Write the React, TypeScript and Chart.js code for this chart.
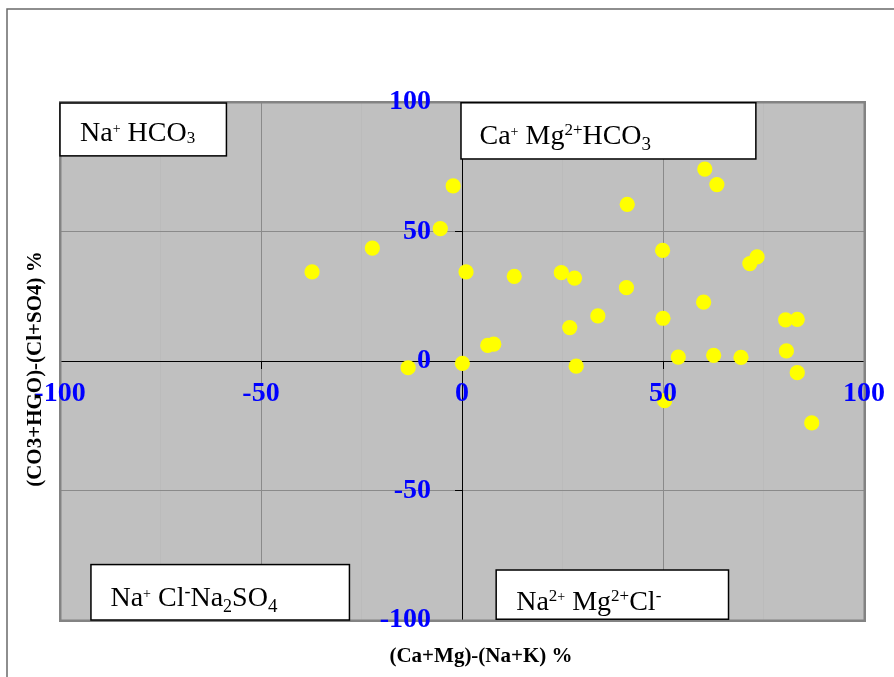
import React, { useEffect, useRef } from 'react';
import { Chart, registerables } from 'chart.js';

Chart.register(...registerables);

// (Ca+Mg)-(Na+K) %
const xValues = [
  -37.3, -22.3, -13.4, -5.4, -2.2, 0.1, 1.0, 6.4, 7.9, 13.0, 24.7, 26.8, 28.0, 28.4, 33.8, 40.9, 41.1,
  49.9, 50.0, 50.4, 53.8, 60.1, 60.4, 62.6, 63.4, 69.4, 71.6, 73.4, 80.5, 80.7, 83.4, 83.4, 87.0,
];
// (CO3+HCO)-(Cl+SO4) %
const yValues = [
  34.4, 43.6, -2.6, 51.1, 67.6, -0.9, 34.4, 6.0, 6.5, 32.7, 34.1, 12.9, 32.0, -2.0, 17.4, 28.3, 60.5,
  42.7, 16.5, -15.3, 1.5, 22.7, 74.1, 2.2, 68.1, 1.4, 37.6, 40.2, 15.9, 3.9, 16.1, -4.5, -23.9,
];
const xTickLabels = ['-100', '-50', '0', '50', '100'];
const yTickLabels = ['-100', '-50', '0', '50', '100'];
const xTitle = '(Ca+Mg)-(Na+K) %';
const yTitle = '(CO3+HGO)-(Cl+SO4) %';

type Run = { t: string; s: number; d: number };
const boxNaHCO3: Run[] = [
  { t: 'Na', s: 28, d: 0 }, { t: '+', s: 14, d: 8 }, { t: ' HCO', s: 28, d: 0 }, { t: '3', s: 17, d: -2 },
];
const boxCaMgHCO3: Run[] = [
  { t: 'Ca', s: 28, d: 0 }, { t: '+', s: 14, d: 8 }, { t: ' Mg', s: 28, d: 0 }, { t: '2+', s: 17, d: 9 },
  { t: 'HCO', s: 28, d: 0 }, { t: '3', s: 19, d: -6 },
];
const boxNaClSO4: Run[] = [
  { t: 'Na', s: 28, d: 0 }, { t: '+', s: 14, d: 8 }, { t: ' Cl', s: 28, d: 0 }, { t: '-', s: 18, d: 9 },
  { t: 'Na', s: 28, d: 0 }, { t: '2', s: 18, d: -6 }, { t: 'SO', s: 28, d: 0 }, { t: '4', s: 19, d: -6 },
];
const boxNaMgCl: Run[] = [
  { t: 'Na', s: 28, d: 0 }, { t: '2', s: 17, d: 9 }, { t: '+', s: 14, d: 9 }, { t: ' Mg', s: 28, d: 0 },
  { t: '2+', s: 17, d: 9 }, { t: 'Cl', s: 28, d: 0 }, { t: '-', s: 17, d: 9 },
];

const SERIF = "'Liberation Serif', 'Times New Roman', serif";

const boxes = [
  { x0: -100, x1: -58.6, y0: 99.6, y1: 79.2, runs: boxNaHCO3, tx: 20, by: 38 },
  { x0: -0.25, x1: 73.1, y0: 99.7, y1: 78.0, runs: boxCaMgHCO3, tx: 18.5, by: 41 },
  { x0: -92.3, x1: -28.0, y0: -78.6, y1: -100, runs: boxNaClSO4, tx: 19.5, by: 41 },
  { x0: 8.5, x1: 66.3, y0: -80.7, y1: -99.7, runs: boxNaMgCl, tx: 20, by: 40 },
];

const decor = {
  id: 'decor',
  beforeDraw(chart: any) {
    const { ctx, chartArea: a } = chart;
    ctx.save();
    ctx.fillStyle = '#ffffff';
    ctx.fillRect(0, 0, chart.width, chart.height);
    ctx.strokeStyle = '#6a6a6a';
    ctx.lineWidth = 1.5;
    ctx.beginPath();
    ctx.moveTo(7, chart.height + 5);
    ctx.lineTo(7, 9);
    ctx.lineTo(chart.width + 5, 9);
    ctx.stroke();
    ctx.fillStyle = '#c0c0c0';
    ctx.fillRect(a.left, a.top, a.right - a.left, a.bottom - a.top);
    ctx.restore();
  },
  beforeDatasetsDraw(chart: any) {
    const { ctx, chartArea: a } = chart;
    ctx.save();
    ctx.strokeStyle = '#838383';
    ctx.lineWidth = 2.5;
    ctx.strokeRect(a.left + 0.25, a.top + 0.25, a.right - a.left + 0.5, a.bottom - a.top + 0.5);
    ctx.restore();
  },
  afterDatasetsDraw(chart: any) {
    const { ctx } = chart;
    const xs = chart.scales.x;
    const ys = chart.scales.y;
    ctx.save();
    for (const b of boxes) {
      const l = xs.getPixelForValue(b.x0);
      const r = xs.getPixelForValue(b.x1);
      const t = ys.getPixelForValue(b.y0);
      const btm = ys.getPixelForValue(b.y1);
      ctx.fillStyle = '#ffffff';
      ctx.fillRect(l, t, r - l, btm - t);
      ctx.strokeStyle = '#000000';
      ctx.lineWidth = 1.5;
      ctx.strokeRect(l, t, r - l, btm - t);
      let x = l + b.tx;
      const base = t + b.by;
      ctx.fillStyle = '#000000';
      ctx.textBaseline = 'alphabetic';
      ctx.textAlign = 'left';
      for (const run of b.runs) {
        ctx.font = `${run.s}px ${SERIF}`;
        ctx.fillText(run.t, x, base - run.d);
        x += ctx.measureText(run.t).width;
      }
    }
    ctx.restore();
  },
  afterDraw(chart: any) {
    const { ctx } = chart;
    ctx.save();
    ctx.fillStyle = '#000000';
    ctx.font = `bold 21px ${SERIF}`;
    ctx.textAlign = 'center';
    ctx.textBaseline = 'middle';
    ctx.fillText(xTitle, 481, 657);
    ctx.translate(36, 369);
    ctx.rotate(-Math.PI / 2);
    ctx.fillText(yTitle, 0, 0);
    ctx.restore();
  },
};

export default function App() {
  const ref = useRef<HTMLCanvasElement | null>(null);
  useEffect(() => {
    if (!ref.current) return;
    const labelFor = (labels: string[], v: number) => {
      const s = String(v);
      return labels.includes(s) ? s : '';
    };
    const chart = new Chart(ref.current, {
      type: 'scatter',
      data: {
        datasets: [
          {
            data: xValues.map((x, i) => ({ x, y: yValues[i] })),
            backgroundColor: '#ffff00',
            borderWidth: 0,
            pointRadius: 7.6,
            pointHoverRadius: 7.6,
          },
        ],
      },
      options: {
        animation: false,
        responsive: false,
        devicePixelRatio: 1,
        layout: { padding: { left: 60, right: 30, top: 102, bottom: 57 } },
        plugins: { legend: { display: false }, tooltip: { enabled: false } },
        events: [],
        scales: {
          x: {
            type: 'linear',
            position: 'center',
            min: -100,
            max: 100,
            ticks: {
              stepSize: 25,
              autoSkip: false,
              maxRotation: 0,
              color: '#0000ff',
              padding: 9,
              z: 1,
              font: { family: SERIF, size: 28, weight: 'bold' },
              callback: (v: any) => labelFor(xTickLabels, Number(v)),
            },
            grid: {
              drawTicks: true,
              tickLength: 7,
              color: (c: any) => {
                const v = c.tick ? c.tick.value : 0;
                if (Math.abs(v) === 100 || v === 0) return 'rgba(0,0,0,0)';
                if (Math.abs(v) === 50) return '#8a8a8a';
                return '#bbbbbb';
              },
              tickColor: (c: any) => {
                const v = c.tick ? c.tick.value : 0;
                return v % 50 === 0 ? '#000000' : 'rgba(0,0,0,0)';
              },
            },
            border: { display: true, color: '#000000', width: 1 },
          },
          y: {
            type: 'linear',
            position: 'center',
            min: -100,
            max: 100,
            ticks: {
              stepSize: 50,
              autoSkip: false,
              color: '#0000ff',
              padding: 24,
              z: 1,
              font: { family: SERIF, size: 28, weight: 'bold' },
              callback: (v: any) => labelFor(yTickLabels, Number(v)),
            },
            grid: {
              drawTicks: true,
              tickLength: 7,
              color: (c: any) => {
                const v = c.tick ? c.tick.value : 0;
                if (Math.abs(v) === 100 || v === 0) return 'rgba(0,0,0,0)';
                return '#8a8a8a';
              },
              tickColor: '#000000',
            },
            border: { display: true, color: '#000000', width: 1 },
          },
        },
      },
      plugins: [decor],
    } as any);
    return () => chart.destroy();
  }, []);
  return (
    <div style={{ position: 'absolute', left: 0, top: 0, width: 894, height: 677 }}>
      <canvas ref={ref} width={894} height={677} style={{ display: 'block' }} />
    </div>
  );
}
